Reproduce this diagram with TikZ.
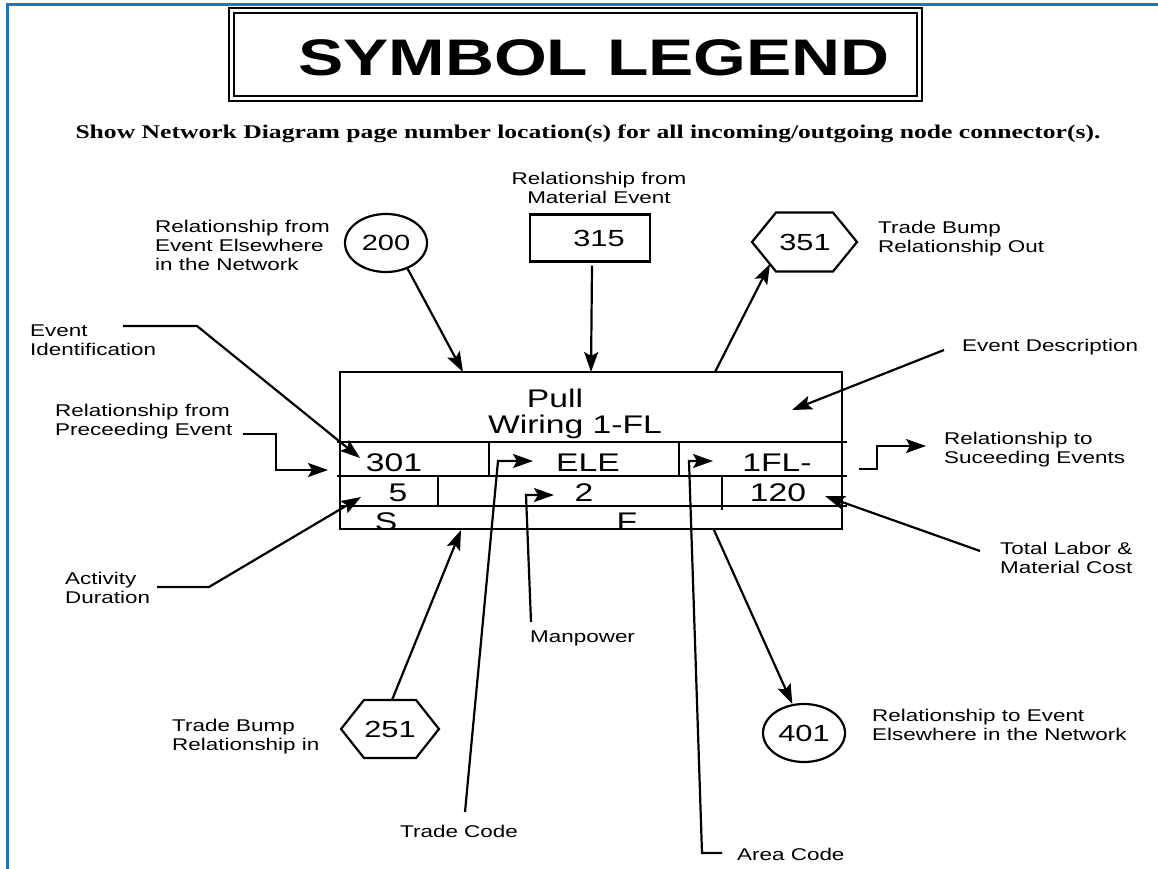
\documentclass[tikz,border=0pt]{standalone}
\usepackage{fontspec}
\setmainfont{Liberation Sans}[FakeStretch=1.32]
\newfontfamily\serifb{Liberation Serif}[FakeStretch=1.32]
\usetikzlibrary{arrows.meta,calc,shapes.geometric}
\definecolor{frameblue}{RGB}{20,120,200}
\begin{document}
\begin{tikzpicture}[x=1pt,y=-1pt,
  lbl/.style={font=\fontsize{17}{19}\selectfont, align=left, inner sep=0pt, anchor=west},
  lblc/.style={font=\fontsize{17}{19}\selectfont, align=center, inner sep=0pt},
  ln/.style={line width=2.2pt, line join=miter},
  arr/.style={ln, -{Stealth[length=20pt,width=14pt,inset=4pt]}},
  boxline/.style={line width=2.6pt},
  boxtxt/.style={font=\fontsize{25.5}{27}\selectfont, inner sep=0pt, anchor=base},
  numtxt/.style={font=\fontsize{23.3}{25}\selectfont, inner sep=0pt},
  shp/.style={line width=2.2pt}
]
\useasboundingbox (0,0) rectangle (1158,869);
% frame
\draw[frameblue, line width=3pt] (1158,4.5) -- (7,4.5) -- (7,869);
% title
\draw[line width=2.2pt] (229,8) rectangle (922,101);
\draw[line width=1.6pt] (234,13) rectangle (917,96);
\node[font=\fontsize{51.4}{53}\selectfont\bfseries, inner sep=0pt] (title) at (594,58) {SYMBOL LEGEND};
\node[font=\serifb\bfseries\fontsize{19.4}{21}\selectfont, inner sep=0pt] (sub) at (588,134)
  {Show Network Diagram page number location(s) for all incoming/outgoing node connector(s).};

% event box
\draw[boxline] (340,372) rectangle (842,529);
\draw[boxline] (337,442) -- (847,442);
\draw[boxline] (337,476) -- (847,476);
\draw[boxline] (340,506) -- (847,506);
\draw[boxline] (489,442) -- (489,476);
\draw[boxline] (679,442) -- (679,476);
\draw[boxline] (438,476) -- (438,506);
\draw[boxline] (722,476) -- (722,510);
\node[boxtxt] (pull) at (555,407) {Pull};
\node[boxtxt] (wiring) at (575,433) {Wiring 1-FL};
\node[boxtxt] (n301) at (394,471) {301};
\node[boxtxt] (ele) at (588,471) {ELE};
\node[boxtxt] (fl) at (777,471) {1FL-};
\node[boxtxt] (n5) at (398,501) {5};
\node[boxtxt] (n2) at (584,501) {2};
\node[boxtxt] (n120) at (778,501) {120};
\begin{scope}
\clip (341,507.5) rectangle (841,527.5);
\node[boxtxt] (sS) at (386,530) {S};
\node[boxtxt] (sF) at (627,530) {F};
\end{scope}

% box anchor coordinates
\coordinate (bt1) at (463,372);
\coordinate (bt2) at (591,372);
\coordinate (bt3) at (715,372);
\coordinate (bb1) at (461,530);
\coordinate (bb2) at (714,530);
\coordinate (idtip) at (360,458);
\coordinate (pretip) at (328,470);
\coordinate (durtip) at (361,497);
\coordinate (desctip) at (792,410);
\coordinate (costtip) at (825,496);
\coordinate (eletip) at (533,461);
\coordinate (mantip) at (554,495);
\coordinate (areatip) at (713,461);

% top symbols
\node[draw, shp, ellipse, minimum width=82pt, minimum height=58pt, inner sep=0pt,
      font=\fontsize{22}{24}\selectfont] (e200) at (386,243) {200};
\node[draw, shp, minimum width=120pt, minimum height=47pt, inner sep=0pt] (r315) at (590,238) {};
\node[numtxt] (t315) at (599,238) {315};
\node[numtxt] (h351) at (805,242) {351};
\draw[shp] ($(h351)+(-53,0)$) -- ($(h351)+(-29,-29.5)$) -- ($(h351)+(28,-29.5)$) -- ($(h351)+(52,0)$)
  -- ($(h351)+(28,29.5)$) -- ($(h351)+(-29,29.5)$) -- cycle;
\coordinate (h351in) at (770,264);

% bottom symbols
\node[numtxt] (h251) at (390,729) {251};
\draw[shp] ($(h251)+(-49,0)$) -- ($(h251)+(-26,-29)$) -- ($(h251)+(26,-29)$) -- ($(h251)+(49,0)$)
  -- ($(h251)+(26,29)$) -- ($(h251)+(-26,29)$) -- cycle;
\coordinate (h251out) at (392,700);
\node[draw, shp, ellipse, minimum width=82pt, minimum height=58pt, inner sep=0pt,
      font=\fontsize{23.3}{25}\selectfont] (e401) at (804,733) {401};

% labels
\node[lbl] (l200) at (155,245) {Relationship from\\Event Elsewhere\\in the Network};
\node[lblc] (l315) at (599,188) {Relationship from\\Material Event};
\node[lbl] (l351) at (878,239) {Trade Bump\\Relationship Out};
\node[lbl] (lid) at (30,340) {Event\\Identification};
\node[lbl] (ldesc) at (962,347) {Event Description};
\node[lbl] (lpre) at (55,422) {Relationship from\\Preceeding Event};
\node[lbl] (lsuc) at (944,450) {Relationship to\\Suceeding Events};
\node[lbl] (lcost) at (1000,558) {Total Labor \&\\Material Cost};
\node[lbl] (ldur) at (65,588) {Activity\\Duration};
\node[lbl] (lman) at (530,638) {Manpower};
\node[lbl] (l251) at (172,737) {Trade Bump\\Relationship in};
\node[lbl] (l401) at (872,725) {Relationship to Event\\Elsewhere in the Network};
\node[lbl] (ltrade) at (400,831) {Trade Code};
\node[lbl] (larea) at (737,854) {Area Code};

% connectors
\draw[arr] (e200.-50) -- (bt1);
\draw[arr] ([xshift=2pt,yshift=-3pt]r315.south) -- (bt2);
\draw[arr] (bt3) -- (h351in);
\draw[arr] (h251out) -- (bb1);
\draw[arr] (bb2) -- (e401.112);
\coordinate (idA) at (123,326);
\coordinate (idB) at (197,326);
\draw[arr] (idA) -- (idB) -- (idtip);
\coordinate (preA) at (243,434);
\coordinate (preB) at (276,434);
\coordinate (preC) at (276,470);
\draw[arr] (preA) -- (preB) -- (preC) -- (pretip);
\coordinate (durA) at (157,587);
\coordinate (durB) at (209,587);
\draw[arr] (durA) -- (durB) -- (durtip);
\coordinate (descA) at (944,350);
\draw[arr] (descA) -- (desctip);
\coordinate (sucA) at (859,469);
\coordinate (sucB) at (877,469);
\coordinate (sucC) at (877,446);
\coordinate (suctip) at (926,446);
\draw[arr] (sucA) -- (sucB) -- (sucC) -- (suctip);
\coordinate (costA) at (980,551);
\draw[arr] (costA) -- (costtip);
\coordinate (tradeA) at (465,812);
\coordinate (tradeB) at (498,461);
\draw[arr] (tradeA) -- (tradeB) -- (eletip);
\coordinate (manA) at (531,622);
\coordinate (manB) at (526,495);
\draw[arr] (manA) -- (manB) -- (mantip);
\coordinate (areaA) at (722,853);
\coordinate (areaB) at (702,853);
\coordinate (areaC) at (689,461);
\draw[arr] (areaA) -- (areaB) -- (areaC) -- (areatip);
\end{tikzpicture}
\end{document}
